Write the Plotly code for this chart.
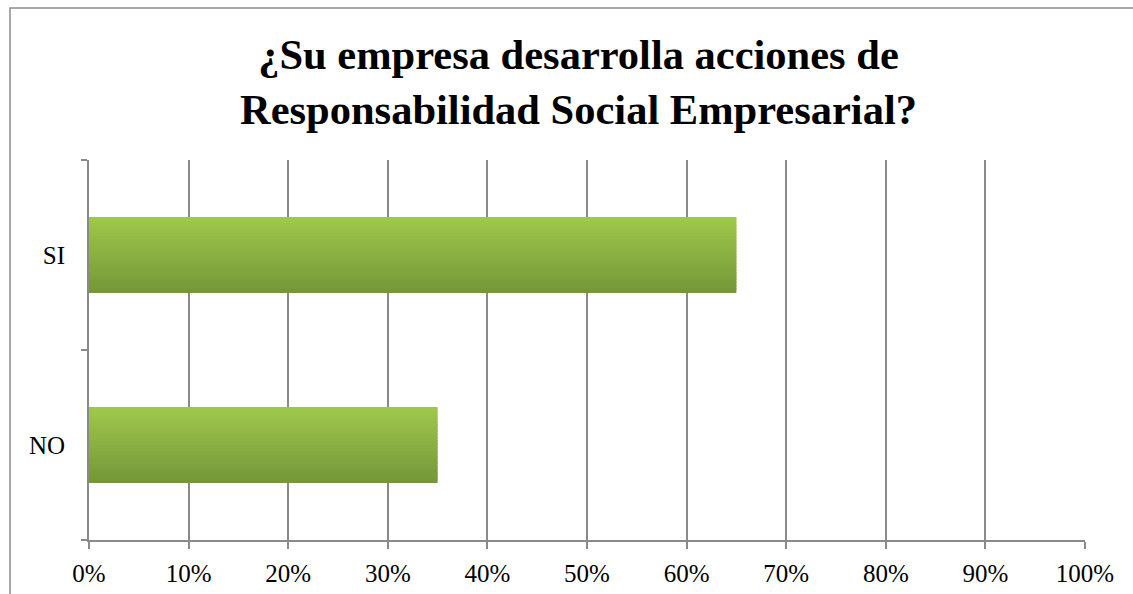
import plotly.graph_objects as go

# Survey answers (share of companies)
categories = ["NO", "SI"]
shares = [0.35, 0.65]
x_ticks = [0, 0.1, 0.2, 0.3, 0.4, 0.5, 0.6, 0.7, 0.8, 0.9, 1.0]
x_tick_labels = ["0%", "10%", "20%", "30%", "40%", "50%", "60%", "70%", "80%", "90%", "100%"]
title_text = "¿Su empresa desarrolla acciones de<br>Responsabilidad Social Empresarial?"

SERIF = "Liberation Serif, Times New Roman, serif"
GRID = "#8a8a8a"

fig = go.Figure()

# Vertical gradient on the bars: stack thin overlaid bar strips,
# light green at the top edge fading to a darker olive at the bottom.
bar_width = 0.40
n_strips = 24
top_rgb = (158, 200, 76)
bot_rgb = (117, 151, 57)
strip = bar_width / n_strips
for i in range(n_strips):
    t = i / (n_strips - 1)  # 0 at bottom edge, 1 at top edge
    r = round(bot_rgb[0] + (top_rgb[0] - bot_rgb[0]) * t)
    g = round(bot_rgb[1] + (top_rgb[1] - bot_rgb[1]) * t)
    b = round(bot_rgb[2] + (top_rgb[2] - bot_rgb[2]) * t)
    fig.add_trace(go.Bar(
        y=categories, x=shares, orientation="h",
        offset=-bar_width / 2 + i * strip,
        width=strip * 1.6 if i < n_strips - 1 else strip,
        marker=dict(color=f"rgb({r},{g},{b})", line=dict(width=0)),
        hoverinfo="x+y", showlegend=False,
    ))

fig.update_layout(
    width=1133, height=594,
    margin=dict(l=89, r=48, t=160, b=54, autoexpand=False),
    paper_bgcolor="white", plot_bgcolor="white",
    barmode="overlay",
    showlegend=False,
    font=dict(family=SERIF, color="black", size=25),
    xaxis=dict(
        range=[0, 1.0], tickvals=x_ticks, ticktext=x_tick_labels,
        showgrid=True, gridcolor=GRID, gridwidth=1.5,
        showline=True, linecolor=GRID, linewidth=2,
        ticks="outside", ticklen=7, tickcolor=GRID, tickwidth=1.5,
        tickfont=dict(family=SERIF, size=25, color="black"),
        ticklabelstandoff=3, automargin=False,
        zeroline=False, fixedrange=True,
    ),
    yaxis=dict(
        type="category", categoryorder="array", categoryarray=categories,
        showgrid=False, showline=True, linecolor=GRID, linewidth=2,
        ticks="outside", tickson="boundaries", ticklen=6, tickcolor=GRID, tickwidth=1.5,
        tickfont=dict(family=SERIF, size=25, color="black"),
        ticklabelstandoff=17, automargin=False, fixedrange=True,
    ),
    annotations=[dict(
        text=f"<b>{title_text}</b>", xref="paper", yref="paper",
        x=0.491, y=1.204, xanchor="center", yanchor="middle",
        showarrow=False, align="center",
        font=dict(family=SERIF, size=42.5, color="black"),
    )],
    shapes=[dict(
        type="rect", xref="paper", yref="paper",
        x0=-0.0793, x1=1.06, y0=-0.2, y1=1.40,
        line=dict(color="#8c8c8c", width=1.5), fillcolor="rgba(0,0,0,0)",
        layer="below",
    )],
)

fig.write_html("out.html")
